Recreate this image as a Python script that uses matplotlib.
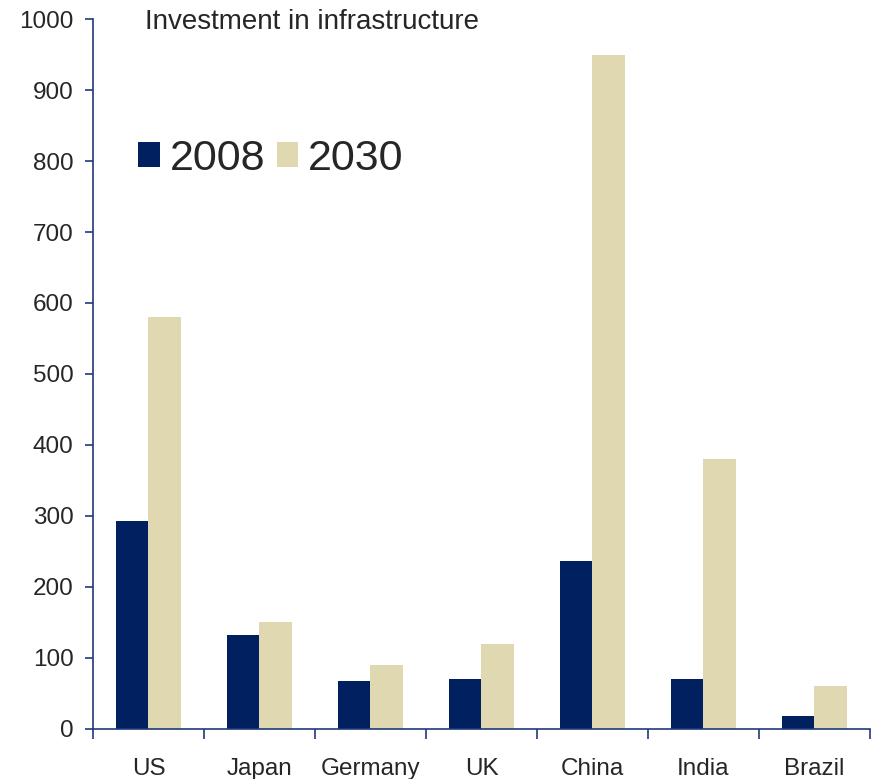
import matplotlib
matplotlib.use("Agg")
import matplotlib.pyplot as plt
import numpy as np
from matplotlib.ticker import FixedLocator, NullFormatter

plt.rcParams['font.family'] = ['Liberation Sans', 'DejaVu Sans']

countries = ["US", "Japan", "Germany", "UK", "China", "India", "Brazil"]
values_2008 = [293, 132, 68, 70, 236, 70, 18]
values_2030 = [580, 150, 90, 120, 950, 380, 60]
series_labels = ["2008", "2030"]
y_ticks = [0, 100, 200, 300, 400, 500, 600, 700, 800, 900, 1000]

navy = "#00205f"
beige = "#e0d8b0"
axis_col = "#1f3a7a"
text_col = "#262626"

fig = plt.figure(figsize=(8.77, 7.79), dpi=100)
ax = fig.add_axes([0.106, 0.0642, 0.886, 0.9114])

x = np.arange(len(countries))
w = 0.29
ax.bar(x - w / 2, values_2008, width=w, color=navy, label=series_labels[0])
ax.bar(x + w / 2, values_2030, width=w, color=beige, label=series_labels[1])

ax.set_xlim(-0.5, len(countries) - 0.5)
ax.set_ylim(0, 1000)
ax.set_yticks(y_ticks)
ax.tick_params(axis='y', direction='out', length=6, width=1.2, color=axis_col,
               labelsize=17.5, labelcolor=text_col, pad=8)

ax.set_xticks(x)
ax.set_xticklabels(countries)
ax.tick_params(axis='x', which='major', length=0, labelsize=17.5,
               labelcolor=text_col, pad=21)
ax.xaxis.set_minor_locator(FixedLocator(np.arange(-0.5, len(countries), 1.0)))
ax.xaxis.set_minor_formatter(NullFormatter())
ax.tick_params(axis='x', which='minor', direction='out', length=7, width=1.2, color=axis_col)

for side in ("top", "right"):
    ax.spines[side].set_visible(False)
for side in ("left", "bottom"):
    ax.spines[side].set_color(axis_col)
    ax.spines[side].set_linewidth(1.2)

fig.text(0.165, 0.972, "Investment in infrastructure", fontsize=20,
         color=text_col, ha='left', va='center')

ax.legend(loc='center left', bbox_to_anchor=(0.058, 0.803), ncol=2, frameon=False,
          fontsize=31, handlelength=0.5, handleheight=0.5, handletextpad=0.23,
          columnspacing=0.27, borderaxespad=0, borderpad=0, labelcolor=text_col)

fig.savefig("out.png", dpi=100)
